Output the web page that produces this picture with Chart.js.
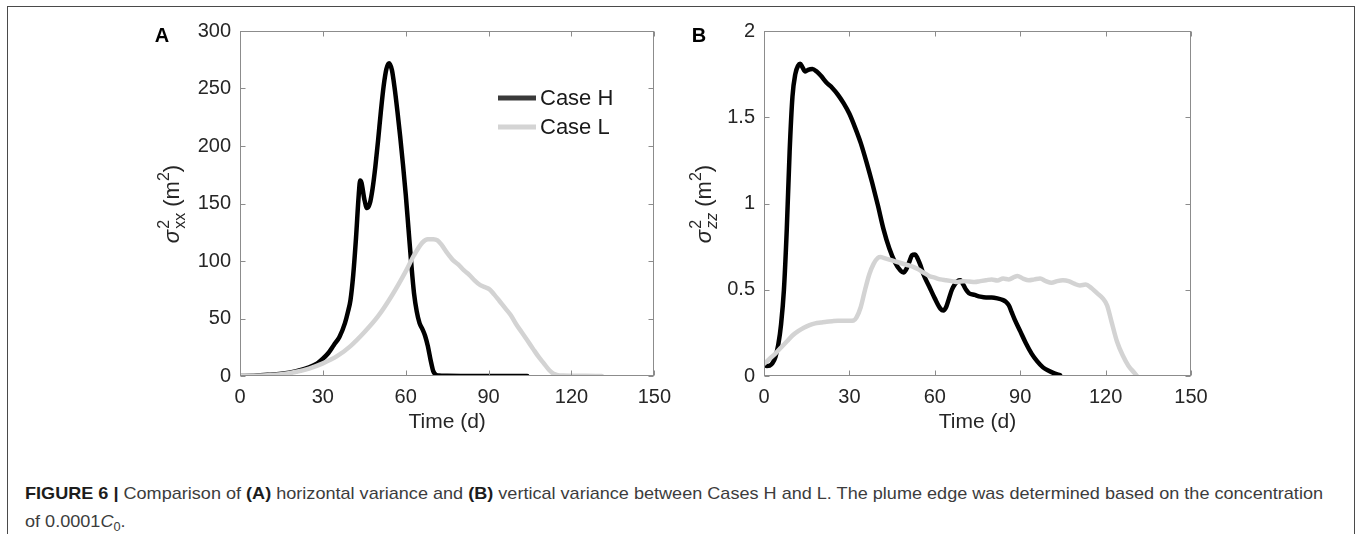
<!DOCTYPE html>
<html>
<head>
<meta charset="utf-8">
<script src="https://cdn.jsdelivr.net/npm/chart.js@4.4.1/dist/chart.umd.min.js"></script>
<style>
  body { margin: 0; width: 1357px; height: 534px; background: #fff; position: relative; overflow: hidden;
         font-family: "Liberation Sans", Arial, sans-serif; }
  #frame { position: absolute; left: 7px; top: 6px; width: 1346px; height: 600px; border: 1px solid #4a4a4a; }
  #chartA { position: absolute; left: 0; top: 0; }
  #chartB { position: absolute; left: 680px; top: 0; }
  .cap { position: absolute; left: 25px; white-space: nowrap; font-size: 17px; line-height: 20px;
         color: #3c3c3c; transform-origin: 0 50%; }
  .cap b { color: #1c1c1c; }
  #cap1 { top: 484px; }
  #cap2 { top: 512px; }
</style>
</head>
<body>
<div id="frame"></div>
<canvas id="chartA" width="680" height="450"></canvas>
<canvas id="chartB" width="677" height="450"></canvas>
<div class="cap" id="cap1"><b>FIGURE 6 |</b> Comparison of <b>(A)</b> horizontal variance and <b>(B)</b> vertical variance between Cases H and L. The plume edge was determined based on the concentration</div>
<div class="cap" id="cap2">of 0.0001<i>C</i><sub style="font-size:12px">0</sub>.</div>
<script>
// values
const seriesNames = ['Case H', 'Case L'];
const xTicks = [0, 30, 60, 90, 120, 150];
const yTicksA = [0, 50, 100, 150, 200, 250, 300];
const yTicksB = [0, 0.5, 1, 1.5, 2];

// panel A: horizontal variance (m2)
const timeHA = [0, 5, 10, 15, 20, 25, 28, 30, 32, 34, 36, 38, 39, 40, 41, 42, 43, 43.5, 44, 45, 46, 47, 48, 49, 50, 51, 52, 53, 54, 55, 56, 57, 58, 59, 60, 61, 62, 63, 64, 65, 66, 67, 68, 69, 70, 71, 72, 75, 80, 90, 104];
const caseHA = [0, 0.3, 1, 2, 4, 7.5, 11, 15, 20, 27, 34, 46, 55, 66, 88, 120, 158, 170, 168, 154, 146, 150, 163, 182, 205, 230, 252, 267, 272, 266, 250, 230, 208, 184, 158, 128, 98, 72, 56, 46, 41, 35, 26, 14, 4, 1, 0.4, 0.2, 0.1, 0, 0];
const timeLA = [0, 5, 10, 15, 20, 25, 30, 35, 40, 45, 50, 55, 60, 63, 66, 68, 70, 71.5, 73, 75, 77, 79, 81, 83, 85, 87, 89, 90.5, 92, 94, 96, 98, 100, 102, 104, 106, 108, 110, 112, 113.5, 115, 117, 120, 125, 131];
const caseLA = [0, 0.2, 0.6, 1.6, 3.5, 6.5, 11, 17, 26, 38, 52, 70, 91, 105, 116, 119, 119, 118, 114, 107, 101, 97, 92, 88, 83, 79, 77, 75, 71, 65, 59, 53, 45, 38, 31, 24, 17, 11, 5, 2, 0.8, 0.4, 0.3, 0.2, 0];

// panel B: vertical variance (m2)
const timeHB = [0, 1, 2, 3, 4, 5, 6, 7, 8, 9, 10, 11, 12, 12.7, 13.5, 14.5, 15.5, 17, 18.5, 20, 22, 24, 26, 28, 30, 32, 34, 36, 38, 40, 42, 44, 46, 48, 49, 50, 51, 52, 53, 54, 55, 56, 58, 60, 62, 63, 64, 65, 66, 67, 68, 69, 70, 71, 72, 74, 76, 78, 80, 82, 84, 85, 86, 87, 88, 90, 92, 94, 96, 98, 100, 102, 104];
const caseHB = [0.065, 0.058, 0.06, 0.075, 0.11, 0.18, 0.3, 0.5, 0.85, 1.3, 1.62, 1.75, 1.8, 1.81, 1.79, 1.765, 1.775, 1.78, 1.765, 1.74, 1.7, 1.67, 1.63, 1.58, 1.52, 1.44, 1.35, 1.24, 1.12, 0.99, 0.85, 0.74, 0.66, 0.61, 0.6, 0.62, 0.66, 0.7, 0.705, 0.68, 0.64, 0.59, 0.52, 0.45, 0.39, 0.38, 0.4, 0.45, 0.5, 0.53, 0.55, 0.555, 0.53, 0.5, 0.48, 0.47, 0.46, 0.455, 0.455, 0.45, 0.44, 0.43, 0.41, 0.37, 0.33, 0.26, 0.19, 0.13, 0.085, 0.05, 0.03, 0.015, 0.005];
const timeLB = [0, 2, 4, 6, 8, 10, 12, 14, 16, 18, 20, 22, 24, 26, 28, 30, 31.5, 32.5, 34, 35.5, 37, 38.5, 40, 41, 42, 44, 46, 48, 50, 52, 54, 56, 58, 60, 62, 64, 66, 68, 70, 72, 74, 76, 78, 80, 82, 84, 86, 88, 89, 91, 93, 95, 97, 99, 101, 103, 105, 107, 109, 111, 113, 115, 117, 119, 120.5, 122, 124, 126, 128, 130, 131];
const caseLB = [0.07, 0.1, 0.13, 0.165, 0.2, 0.235, 0.26, 0.28, 0.295, 0.305, 0.31, 0.315, 0.318, 0.32, 0.32, 0.32, 0.322, 0.34, 0.4, 0.5, 0.59, 0.65, 0.685, 0.69, 0.685, 0.675, 0.665, 0.655, 0.645, 0.635, 0.62, 0.6, 0.58, 0.57, 0.56, 0.555, 0.55, 0.545, 0.55, 0.548, 0.545, 0.55, 0.555, 0.56, 0.553, 0.565, 0.56, 0.575, 0.58, 0.565, 0.555, 0.56, 0.565, 0.55, 0.54, 0.55, 0.555, 0.55, 0.535, 0.525, 0.53, 0.51, 0.48, 0.45, 0.41, 0.32, 0.2, 0.12, 0.06, 0.02, 0];

const FONT = '"Liberation Sans", Arial, sans-serif';
const TXT = '#262626';

function pts(t, v) {
  return t.map((x, i) => ({ x: x, y: v[i] }));
}

// box, inward ticks, panel letter, rotated y label, legend
const decoPlugin = {
  id: 'deco',
  afterDatasetsDraw(chart, args, o) {
    const { ctx, chartArea: a, scales: { x, y } } = chart;
    ctx.save();
    ctx.strokeStyle = '#8c8c8c';
    ctx.lineWidth = 1;
    const L = Math.round(a.left) + 0.5, R = Math.round(a.right) - 0.5;
    const T = Math.round(a.top) + 0.5, B = Math.round(a.bottom) - 0.5;
    ctx.strokeRect(L, T, R - L, B - T);
    ctx.beginPath();
    x.ticks.forEach(t => {
      const px = Math.round(x.getPixelForValue(t.value)) + 0.5;
      ctx.moveTo(px, B); ctx.lineTo(px, B - 5);
      ctx.moveTo(px, T); ctx.lineTo(px, T + 5);
    });
    y.ticks.forEach(t => {
      const py = Math.round(y.getPixelForValue(t.value)) + 0.5;
      ctx.moveTo(L, py); ctx.lineTo(L + 5, py);
      ctx.moveTo(R, py); ctx.lineTo(R - 5, py);
    });
    ctx.stroke();

    ctx.fillStyle = '#000';
    ctx.font = 'bold 20px ' + FONT;
    ctx.textAlign = 'center';
    ctx.textBaseline = 'middle';
    ctx.fillText(o.letter, o.letterX, 36);

    // y label: sigma^2_sub (m^2), rotated
    ctx.translate(o.labelX, 204);
    ctx.rotate(-Math.PI / 2);
    ctx.fillStyle = TXT;
    ctx.textAlign = 'left';
    ctx.textBaseline = 'alphabetic';
    const main = '22px ' + FONT, small = '16px ' + FONT;
    const subFont = (o.subItalic ? 'italic ' : '') + small;
    ctx.font = 'italic ' + main; const wSig = ctx.measureText('σ').width;
    ctx.font = subFont; const wSub = ctx.measureText(o.sub).width;
    ctx.font = small; const w2 = ctx.measureText('2').width;
    ctx.font = main; const wM = ctx.measureText(' (m').width, wP = ctx.measureText(')').width;
    const total = wSig + Math.max(wSub, w2) + 1 + wM + w2 + wP;
    let cx = -total / 2;
    const base = 8;
    ctx.font = 'italic ' + main; ctx.fillText('σ', cx, base); cx += wSig + 1;
    ctx.font = small; ctx.fillText('2', cx, base - 10);
    ctx.font = subFont; ctx.fillText(o.sub, cx, base + 6);
    cx += Math.max(wSub, w2);
    ctx.font = main; ctx.fillText(' (m', cx, base); cx += wM;
    ctx.font = small; ctx.fillText('2', cx, base - 10); cx += w2;
    ctx.font = main; ctx.fillText(')', cx, base);
    ctx.setTransform(1, 0, 0, 1, 0, 0);

    if (o.legend) {
      const colors = ['#3a3a3a', '#d4d4d4'];
      const rows = [98, 127];
      ctx.lineWidth = 5;
      ctx.font = '22px ' + FONT;
      ctx.textBaseline = 'middle';
      ctx.textAlign = 'left';
      seriesNames.forEach((name, i) => {
        ctx.strokeStyle = colors[i];
        ctx.beginPath();
        ctx.moveTo(498, rows[i]); ctx.lineTo(536, rows[i]);
        ctx.stroke();
        ctx.fillStyle = '#1a1a1a';
        ctx.fillText(name, 540, rows[i] + 1);
      });
    }
    ctx.restore();
  }
};

function makeChart(id, hData, lData, yMax, yTicks, pad, decoOpts) {
  return new Chart(document.getElementById(id), {
    type: 'line',
    data: {
      datasets: [
        { label: seriesNames[0], data: hData, borderColor: '#000', borderWidth: 4.5, order: 1 },
        { label: seriesNames[1], data: lData, borderColor: '#d3d3d3', borderWidth: 4.5, order: 0 }
      ]
    },
    options: {
      responsive: false,
      devicePixelRatio: 1,
      animation: false,
      layout: { padding: pad },
      elements: {
        point: { radius: 0 },
        line: { tension: 0.4, cubicInterpolationMode: 'monotone', fill: false, borderCapStyle: 'round', borderJoinStyle: 'round' }
      },
      plugins: { legend: { display: false }, tooltip: { enabled: false }, deco: decoOpts },
      scales: {
        x: {
          type: 'linear', min: 0, max: 150,
          afterBuildTicks: s => { s.ticks = xTicks.map(v => ({ value: v })); },
          afterFit: s => { s.height = 59; },
          grid: { display: false, drawTicks: false },
          border: { display: false },
          ticks: { padding: 9, color: TXT, font: { family: FONT, size: 20 }, maxRotation: 0, callback: v => String(v) },
          title: { display: true, text: 'Time (d)', color: TXT, padding: 0, font: { family: FONT, size: 21 } }
        },
        y: {
          type: 'linear', min: 0, max: yMax,
          afterBuildTicks: s => { s.ticks = yTicks.map(v => ({ value: v })); },
          afterFit: s => { s.width = 70; },
          grid: { display: false, drawTicks: false },
          border: { display: false },
          ticks: { padding: 9, color: TXT, font: { family: FONT, size: 20 }, callback: v => String(v) }
        }
      }
    },
    plugins: [decoPlugin]
  });
}

makeChart('chartA', pts(timeHA, caseHA), pts(timeLA, caseLA), 300, yTicksA,
  { left: 170, right: 21, top: 31, bottom: 15 },
  { letter: 'A', letterX: 162, labelX: 171, sub: 'xx', subItalic: false, legend: true });
makeChart('chartB', pts(timeHB, caseHB), pts(timeLB, caseLB), 2, yTicksB,
  { left: 14, right: 166, top: 31, bottom: 15 },
  { letter: 'B', letterX: 19, labelX: 23, sub: 'zz', subItalic: true, legend: false });

// fit caption width to the reference line
const c1 = document.getElementById('cap1');
const k = 1298 / c1.getBoundingClientRect().width;
document.querySelectorAll('.cap').forEach(el => { el.style.transform = 'scaleX(' + k + ')'; });
</script>
</body>
</html>
